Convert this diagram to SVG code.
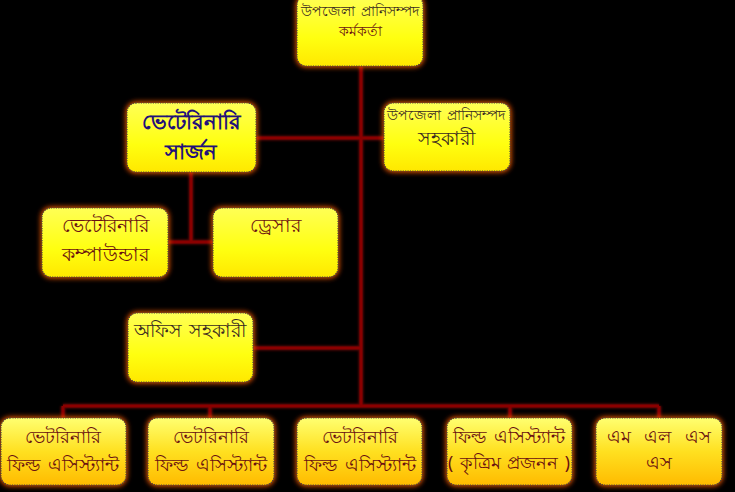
<svg xmlns="http://www.w3.org/2000/svg" width="735" height="492" viewBox="0 0 735 492">
<defs>
<linearGradient id="gTop" x1="0" y1="0" x2="0" y2="1">
<stop offset="0" stop-color="#ffff55"/>
<stop offset="0.6" stop-color="#ffff10"/>
<stop offset="1" stop-color="#ffe800"/>
</linearGradient>
<linearGradient id="gBot" x1="0" y1="0" x2="0" y2="1">
<stop offset="0" stop-color="#ffff70"/>
<stop offset="0.5" stop-color="#ffe020"/>
<stop offset="1" stop-color="#ffbb00"/>
</linearGradient>
<filter id="glow" x="-20%" y="-30%" width="140%" height="160%">
<feGaussianBlur stdDeviation="2.5"/>
</filter>
<filter id="lglow" x="-5%" y="-5%" width="110%" height="110%">
<feGaussianBlur stdDeviation="1.2"/>
</filter>
</defs>
<style>
.halo{fill:#ff7a00;stroke:#d04000;stroke-width:3;filter:url(#glow)}
.box{stroke:#444;stroke-width:1.2;stroke-dasharray:1.2 1.2}
.top{fill:url(#gTop)}
.bot{fill:url(#gBot)}
.t{font-family:"Noto Sans",sans-serif;font-size:19px;text-anchor:middle;fill:#6a1010;word-spacing:3px}
.b{font-size:17.5px;word-spacing:3px}
.ts{font-size:13.5px;word-spacing:2px}
.blue{fill:#22107a;font-size:21px;font-weight:bold}
.gray{fill:#3a2a20}
.ln{stroke:#8a0000;stroke-width:3;fill:none}
.lg{stroke:#c01010;stroke-width:5;fill:none;filter:url(#lglow);opacity:0.45}
</style>
<rect width="735" height="492" fill="#000"/>

<g id="connectors">
<path class="lg" d="M361 66V406M256 138H384M191 172V242M168 242H213M253 348H361M63 406H659M63 406V418M210 406V418M510 406V418M659 406V418"/>
<path class="ln" d="M361 66V406M256 138H384M191 172V242M168 242H213M253 348H361M63 406H659M63 406V418M210 406V418M510 406V418M659 406V418"/>
</g>

<g id="n-officer">
<rect class="halo" x="297" y="-4" width="126" height="70" rx="9"/>
<rect class="box top" x="297" y="-4" width="126" height="70" rx="9"/>
<text class="t ts gray" x="360" y="16">উপজেলা প্রানিসম্পদ</text>
<text class="t ts" x="360" y="36">কর্মকর্তা</text>
</g>

<g id="n-assistant">
<rect class="halo" x="384" y="103" width="126" height="68" rx="9"/>
<rect class="box top" x="384" y="103" width="126" height="68" rx="9"/>
<text class="t ts gray" x="446" y="120">উপজেলা প্রানিসম্পদ</text>
<text class="t gray" x="446" y="145" font-size="17">সহকারী</text>
</g>

<g id="n-surgeon">
<rect class="halo" x="127" y="103" width="129" height="69" rx="9"/>
<rect class="box top" x="127" y="103" width="129" height="69" rx="9"/>
<text class="t blue" x="191" y="129">ভেটেরিনারি</text>
<text class="t blue" x="191" y="159">সার্জন</text>
</g>

<g id="n-compounder">
<rect class="halo" x="42" y="208" width="126" height="69" rx="9"/>
<rect class="box top" x="42" y="208" width="126" height="69" rx="9"/>
<text class="t" x="105" y="232">ভেটেরিনারি</text>
<text class="t" x="105" y="261">কম্পাউন্ডার</text>
</g>

<g id="n-dresser">
<rect class="halo" x="213" y="208" width="125" height="69" rx="9"/>
<rect class="box top" x="213" y="208" width="125" height="69" rx="9"/>
<text class="t" x="275" y="232">ড্রেসার</text>
</g>

<g id="n-office">
<rect class="halo" x="128" y="313" width="125" height="69" rx="9"/>
<rect class="box top" x="128" y="313" width="125" height="69" rx="9"/>
<text class="t gray" x="190" y="337">অফিস সহকারী</text>
</g>

<g id="n-vfa1">
<rect class="halo" x="1" y="418" width="125" height="67" rx="9"/>
<rect class="box bot" x="1" y="418" width="125" height="67" rx="9"/>
<text class="t b" x="63" y="443">ভেটরিনারি</text>
<text class="t b" x="63" y="471">ফিল্ড এসিস্ট্যান্ট</text>
</g>

<g id="n-vfa2">
<rect class="halo" x="148" y="418" width="126" height="67" rx="9"/>
<rect class="box bot" x="148" y="418" width="126" height="67" rx="9"/>
<text class="t b" x="211" y="443">ভেটরিনারি</text>
<text class="t b" x="211" y="471">ফিল্ড এসিস্ট্যান্ট</text>
</g>

<g id="n-vfa3">
<rect class="halo" x="297" y="418" width="125" height="67" rx="9"/>
<rect class="box bot" x="297" y="418" width="125" height="67" rx="9"/>
<text class="t b" x="360" y="443">ভেটরিনারি</text>
<text class="t b" x="360" y="471">ফিল্ড এসিস্ট্যান্ট</text>
</g>

<g id="n-fa-ai">
<rect class="halo" x="447" y="418" width="125" height="67" rx="9"/>
<rect class="box bot" x="447" y="418" width="125" height="67" rx="9"/>
<text class="t b" x="509" y="443">ফিল্ড এসিস্ট্যান্ট</text>
<text class="t b" x="509" y="469" style="word-spacing:2px">( কৃত্রিম প্রজনন )</text>
</g>

<g id="n-mlss">
<rect class="halo" x="596" y="418" width="126" height="67" rx="9"/>
<rect class="box bot" x="596" y="418" width="126" height="67" rx="9"/>
<text class="t b" x="659" y="443" style="word-spacing:9px">এম এল এস</text>
<text class="t b" x="659" y="469">এস</text>
</g>
</svg>
